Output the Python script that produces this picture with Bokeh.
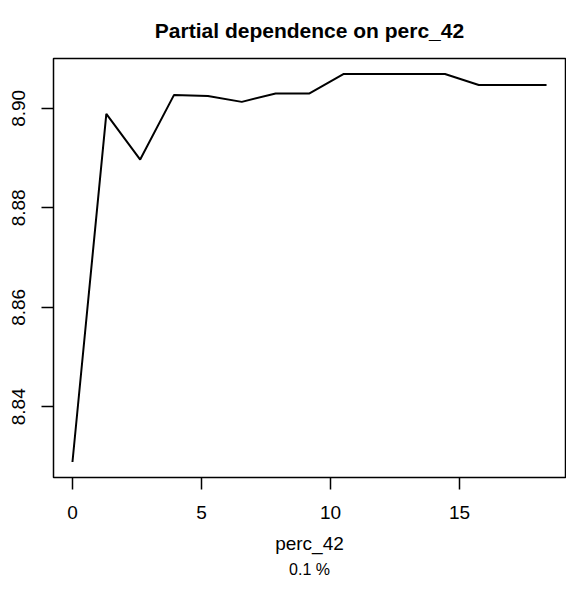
from bokeh.plotting import figure
from bokeh.models import Range1d, FixedTicker, Title
from bokeh.embed import file_html
from bokeh.resources import INLINE

# data
perc_42 = [0.0, 1.3125, 2.625, 3.9375, 5.25, 6.5625, 7.875, 9.1875,
           10.5, 11.8125, 13.125, 14.4375, 15.75, 17.0625, 18.375]
partial_dep = [8.8289, 8.8989, 8.8897, 8.9027, 8.9025, 8.9013, 8.9030, 8.9030,
               8.9069, 8.9069, 8.9069, 8.9069, 8.9047, 8.9047, 8.9047]
x_ticks = [0, 5, 10, 15]
y_ticks = [8.84, 8.86, 8.88, 8.90]
y_tick_labels = {8.84: "8.84", 8.86: "8.86", 8.88: "8.88", 8.90: "8.90"}
title_text = "Partial dependence on perc_42"
x_label = "perc_42"
sub_text = "0.1 %"

FONT = "Liberation Sans"

def padded(lo, hi, frac=0.04):
    d = hi - lo
    return lo - frac * d, hi + frac * d

x0, x1 = padded(min(perc_42), max(perc_42))
y0, y1 = padded(min(partial_dep), max(partial_dep))

p = figure(width=566, height=579, output_backend="svg", toolbar_location=None,
           x_range=Range1d(x0, x1), y_range=Range1d(y0, y1),
           min_border_left=53, min_border_right=1, min_border_top=10,
           min_border_bottom=10)
p.background_fill_color = "white"
p.border_fill_color = "white"
p.grid.visible = False
p.outline_line_color = "black"
p.outline_line_width = 1.5
p.outline_line_alpha = 1.0

p.line(perc_42, partial_dep, line_color="black", line_width=2)

# title
p.title.text = title_text
p.title.text_font = FONT
p.title.text_font_size = "21px"
p.title.text_font_style = "bold"
p.title.align = "center"
p.title.standoff = 33
p.title.text_color = "black"

for ax in (p.xaxis[0], p.yaxis[0]):
    ax.axis_line_color = None
    ax.major_tick_line_color = "black"
    ax.major_tick_line_width = 1.5
    ax.major_tick_in = 0
    ax.major_tick_out = 12
    ax.minor_tick_line_color = None
    ax.major_label_text_font = FONT
    ax.major_label_text_font_size = "19px"
    ax.major_label_text_color = "black"

p.xaxis[0].ticker = FixedTicker(ticks=x_ticks)
p.xaxis[0].major_label_standoff = 16
p.xaxis[0].axis_label = x_label
p.xaxis[0].axis_label_text_font = FONT
p.xaxis[0].axis_label_text_font_size = "19px"
p.xaxis[0].axis_label_text_font_style = "normal"
p.xaxis[0].axis_label_text_color = "black"
p.xaxis[0].axis_label_standoff = 11

p.yaxis[0].ticker = FixedTicker(ticks=y_ticks)
p.yaxis[0].major_label_overrides = y_tick_labels
p.yaxis[0].major_label_orientation = "vertical"
p.yaxis[0].major_label_standoff = 16

sub = Title(text=sub_text, align="center", text_font=FONT,
            text_font_size="16px", text_font_style="normal",
            text_color="black", standoff=4)
p.add_layout(sub, "below")

open("out.html", "w").write(file_html(p, INLINE))
